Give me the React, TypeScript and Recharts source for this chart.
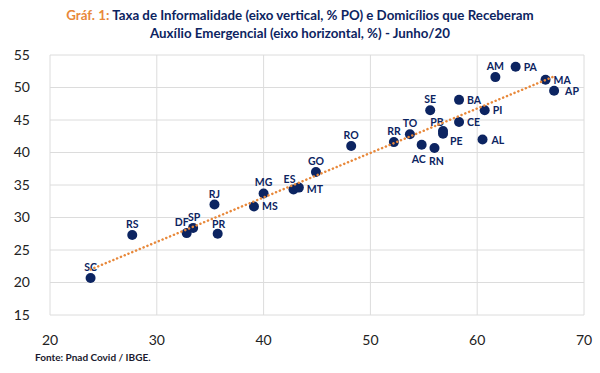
import { ScatterChart, Scatter, XAxis, YAxis, CartesianGrid } from "recharts";

// UF, % de domicílios com auxílio (x) e taxa de informalidade (y)
const states = ["SC", "RS", "DF", "SP", "PR", "RJ", "MS", "MG", "ES", "MT", "GO", "RO", "RR", "TO", "AC", "RN", "SE", "PB", "PE", "CE", "BA", "PI", "AL", "AM", "PA", "MA", "AP"];
const auxilio = [23.8, 27.7, 32.8, 33.4, 35.7, 35.4, 39.1, 40.0, 42.8, 43.3, 44.9, 48.2, 52.2, 53.7, 54.8, 56.0, 55.6, 56.8, 56.8, 58.3, 58.3, 60.7, 60.5, 61.7, 63.6, 66.4, 67.2];
const informalidade = [20.7, 27.3, 27.6, 28.4, 27.5, 32.0, 31.7, 33.7, 34.3, 34.6, 37.0, 41.0, 41.6, 42.8, 41.2, 40.7, 46.5, 43.3, 42.9, 44.7, 48.1, 46.5, 42.0, 51.6, 53.2, 51.2, 49.5];

// linha de tendência (pontas)
const trendX = [23.8, 67.2];
const trendY = [22.0, 51.7];

const xTicks = [20, 30, 40, 50, 60, 70];
const yTicks = [15, 20, 25, 30, 35, 40, 45, 50, 55];

const NAVY = "#0c2461";
const ORANGE = "#e8883a";
const FONT = "Lato, 'Open Sans', sans-serif";

const points = states.map((uf, i) => ({ uf, x: auxilio[i], y: informalidade[i] }));
const trend = trendX.map((x, i) => ({ x, y: trendY[i] }));

// where each label sits relative to its dot: [dx, dy, anchor]
const place: Record<string, [number, number, "start" | "middle" | "end"]> = {
  PA: [8, 0, "start"],
  MA: [8, 0, "start"],
  AP: [11, 0, "start"],
  BA: [8, 0, "start"],
  PI: [8, 0, "start"],
  CE: [8, 0, "start"],
  AL: [9, 0, "start"],
  MT: [8, 1, "start"],
  MS: [8, 0, "start"],
  PE: [7, 7, "start"],
  AC: [-3, 14, "middle"],
  RN: [2, 13, "middle"],
  PB: [-6, -9, "middle"],
  DF: [-5, -11, "middle"],
  ES: [-4, -11, "middle"],
  SP: [1, -11, "middle"],
  PR: [1, -10, "middle"],
};

const StateDot = (props: any) => {
  const { cx, cy, payload } = props;
  const p = place[payload.uf] ?? [0, -11, "middle"];
  return (
    <g>
      <circle cx={cx} cy={cy} r={5} fill={NAVY} />
      <text
        x={cx + p[0]}
        y={cy + p[1]}
        textAnchor={p[2]}
        dominantBaseline="central"
        fontFamily={FONT}
        fontWeight={700}
        fontSize={10.5}
        fill={NAVY}
      >
        {payload.uf}
      </text>
    </g>
  );
};

export default function App() {
  return (
    <div style={{ position: "absolute", left: 0, top: 0, width: 600, height: 373, background: "#fff", fontFamily: FONT }}>
      <div
        style={{
          position: "absolute",
          top: 6,
          left: 0,
          width: 600,
          textAlign: "center",
          fontSize: 13.3,
          fontWeight: 700,
          lineHeight: "18px",
          color: NAVY,
          whiteSpace: "nowrap",
        }}
      >
        <span style={{ color: ORANGE }}>Gráf. 1:</span> Taxa de Informalidade (eixo vertical, % PO) e Domicílios que Receberam
        <br />
        Auxílio Emergencial (eixo horizontal, %) - Junho/20
      </div>
      <ScatterChart width={600} height={373} margin={{ top: 55, right: 16, bottom: 0, left: 0 }}>
        <CartesianGrid stroke="#dcdcdc" />
        <XAxis
          type="number"
          dataKey="x"
          domain={[20, 70]}
          ticks={xTicks}
          axisLine={false}
          tickLine={false}
          tickMargin={14}
          height={58}
          tick={{ fill: "#222", fontSize: 14, fontFamily: FONT }}
        />
        <YAxis
          type="number"
          dataKey="y"
          domain={[15, 55]}
          ticks={yTicks}
          axisLine={false}
          tickLine={false}
          tickMargin={14}
          width={50}
          tick={{ fill: "#222", fontSize: 14, fontFamily: FONT }}
        />
        <Scatter data={points} shape={StateDot} isAnimationActive={false} />
        <Scatter
          data={trend}
          line={{ stroke: ORANGE, strokeWidth: 2.5, strokeDasharray: "0.1 4", strokeLinecap: "round" }}
          shape={() => <g />}
          isAnimationActive={false}
        />
      </ScatterChart>
      <div
        style={{
          position: "absolute",
          left: 35,
          top: 351,
          fontSize: 10,
          fontWeight: 700,
          color: "#1a1a2e",
        }}
      >
        Fonte: Pnad Covid / IBGE.
      </div>
    </div>
  );
}
